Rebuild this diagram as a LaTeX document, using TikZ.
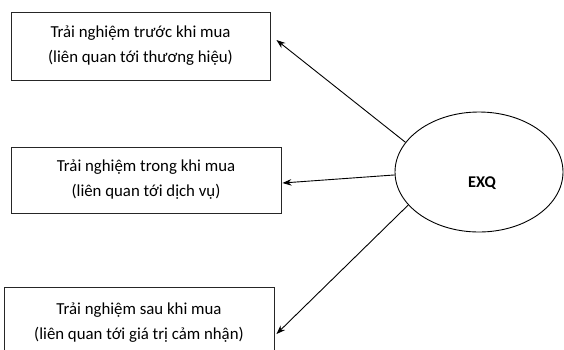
\documentclass[tikz,border=0pt]{standalone}
\usepackage{fontspec}
\setmainfont{Carlito}
\usetikzlibrary{arrows.meta,shapes.geometric}
\begin{document}
\begin{tikzpicture}[x=1pt,y=-1pt,
  stagebox/.style={draw=black!85,line width=0.9pt,rectangle,align=center,
    font=\fontsize{16.8}{25}\selectfont,inner sep=0pt},
  construct/.style={draw=black,line width=0.9pt,ellipse,inner sep=0pt,
    minimum width=168pt,minimum height=120pt},
  link/.style={line width=0.9pt,-{Stealth[length=9pt,width=6.5pt]}}]
\useasboundingbox (0,0) rectangle (564,349);
\clip (0,0) rectangle (564,349);
\node[stagebox,minimum width=259pt,minimum height=68pt] (pre) at (140.5,46)
  {Trải nghiệm trước khi mua\\(liên quan tới thương hiệu)};
\node[stagebox,minimum width=270pt,minimum height=66pt] (during) at (146,180)
  {Trải nghiệm trong khi mua\\(liên quan tới dịch vụ)};
\node[stagebox,minimum width=270pt,minimum height=72pt] (post) at (139,323)
  {Trải nghiệm sau khi mua\\(liên quan tới giá trị cảm nhận)};
\node[construct] (exq) at (479,172) {};
\node[font=\fontsize{16.4}{18}\selectfont\bfseries] (exqlabel) at (482,183) {EXQ};
\draw[link] (exq.158) -- ([xshift=6pt,yshift=6pt]pre.east);
\draw[link] (exq.182) -- ([xshift=1pt,yshift=-3pt]during.east);
\draw[link] (exq.205) -- ([xshift=2pt,yshift=-11pt]post.east);
\end{tikzpicture}
\end{document}
